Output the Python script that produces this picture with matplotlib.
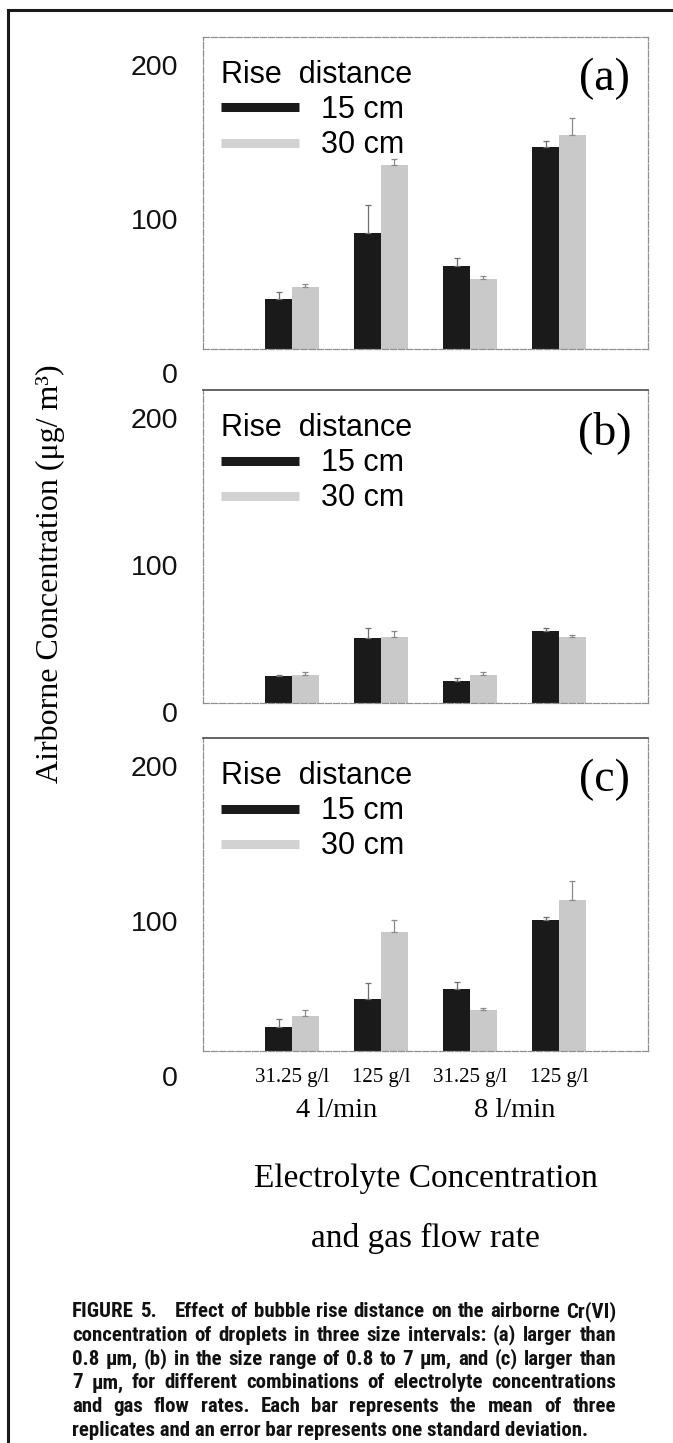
import matplotlib
matplotlib.use('Agg')
import matplotlib.pyplot as plt
import matplotlib.transforms as mtransforms
from matplotlib.lines import Line2D
from matplotlib import font_manager
import numpy as np

"""
Data read off the scanned figure (airborne Cr(VI), ug/m3)
"""
groups = ['31.25 g/l', '125 g/l', '31.25 g/l', '125 g/l']
flow_labels = ['4 l/min', '8 l/min']
series = ['15 cm', '30 cm']
panel_tags = ['(a)', '(b)', '(c)']
y_ticks = [0, 100, 200]

# (a) larger than 0.8 um
a_15 = [48, 91, 70, 147]
a_30 = [56, 135, 61, 155]
a_15_sd = [5, 18, 5, 4]
a_30_sd = [2, 4, 2, 11]
# (b) 0.8 to 7 um
b_15 = [24, 50, 21, 55]
b_30 = [25, 51, 25, 51]
b_15_sd = [1, 7, 2, 2]
b_30_sd = [2, 4, 2, 1]
# (c) larger than 7 um
c_15 = [32, 50, 56, 101]
c_30 = [39, 93, 43, 114]
c_15_sd = [5, 10, 5, 2]
c_30_sd = [4, 8, 1, 12]

caption = [
    "FIGURE 5.   Effect of bubble rise distance on the airborne Cr(VI)",
    "concentration of droplets in three size intervals: (a) larger than",
    "0.8 \u03bcm, (b) in the size range of 0.8 to 7 \u03bcm, and (c) larger than",
    "7 \u03bcm, for different combinations of electrolyte concentrations",
    "and gas flow rates. Each bar represents the mean of three",
    "replicates and an error bar represents one standard deviation.",
]

"""
Layout (pixels of the 673 x 1443 page)
"""
W, H = 673, 1443
SERIF = 'Liberation Serif'
SANS = 'Liberation Sans'

BLACK = '#1a1a1a'
GRAY = '#c9c9c9'
LEG_GRAY = '#d2d2d2'

AX_L, AX_R = 203, 648
# top px, bottom px, ylim low, ylim high
panel_box = [(37, 349, 15.8, 218.4),
             (390, 703, 5.9, 218.8),
             (738, 1051, 16.3, 218.3)]

means = [(a_15, a_30), (b_15, b_30), (c_15, c_30)]
sds = [(a_15_sd, a_30_sd), (b_15_sd, b_30_sd), (c_15_sd, c_30_sd)]


def fx(px):
    return px / W


def fy(py):
    return 1 - py / H


def caption_font():
    # a narrow bold sans is closest to the journal caption face
    prefs = ['LiberationSansNarrow-Bold', 'ArialNarrow-Bold', 'RobotoCondensed-Bold',
             'DejaVuSansCondensed-Bold', 'OpenSans_Condensed-Bold', 'OpenSansCondensed-Bold']
    files = [f.fname for f in font_manager.fontManager.ttflist]
    for p in prefs:
        for fn in files:
            if p.lower() in fn.replace(' ', '').lower():
                return font_manager.FontProperties(fname=fn)
    for fn in files:
        low = fn.lower()
        if ('condensed' in low or 'narrow' in low) and 'bold' in low \
                and 'mono' not in low and 'serif' not in low and 'italic' not in low \
                and 'oblique' not in low:
            return font_manager.FontProperties(fname=fn)
    return font_manager.FontProperties(family='Liberation Sans', weight='bold')


fig = plt.figure(figsize=(W / 100, H / 100), dpi=100)
fig.patch.set_facecolor('white')

x = np.arange(len(groups))
bw = 0.3
axes = []
for i, (top, bot, ylo, yhi) in enumerate(panel_box):
    ax = fig.add_axes([fx(AX_L), fy(bot), fx(AX_R) - fx(AX_L), (bot - top) / H])
    axes.append(ax)
    m15, m30 = means[i]
    s15, s30 = sds[i]

    ax.bar(x - bw / 2, m15, bw, color=BLACK, edgecolor='none', zorder=2)
    ax.bar(x + bw / 2, m30, bw, color=GRAY, edgecolor='none', zorder=2)
    ax.errorbar(x - bw / 2, m15, yerr=[np.zeros(len(m15)), s15], fmt='none',
                ecolor='#6f6f6f', elinewidth=0.9, capsize=2.5, capthick=0.9, zorder=3)
    ax.errorbar(x + bw / 2, m30, yerr=[np.zeros(len(m30)), s30], fmt='none',
                ecolor='#8a8a8a', elinewidth=0.9, capsize=2.5, capthick=0.9, zorder=3)

    ax.set_xlim(-1, 4)
    ax.set_ylim(ylo, yhi)
    ax.set_yticks([])

    # tick labels of the scan sit a bit off the bars' baseline
    for v in y_ticks:
        ax.text(-0.056, v, str(v), transform=ax.get_yaxis_transform(),
                ha='right', va='center_baseline', fontsize=20.5, family=SANS, color='#111111')

    for side in ['left', 'right', 'bottom', 'top']:
        ax.spines[side].set_color('#909090')
        ax.spines[side].set_linewidth(0.9)
        ax.spines[side].set_linestyle((0, (5, 1.5)))
    if i > 0:
        ax.spines['top'].set_color('#4a4a4a')
        ax.spines['top'].set_linewidth(1.2)
        ax.spines['top'].set_linestyle('-')

    handles = [Line2D([], [], color=BLACK, lw=6.5, solid_capstyle='butt'),
               Line2D([], [], color=LEG_GRAY, lw=6.5, solid_capstyle='butt')]
    ax.legend(handles, series, title='Rise  distance', loc='upper left',
              bbox_to_anchor=(0.04, 1 - 23 / 312), frameon=False,
              prop={'family': SANS, 'size': 22},
              title_fontproperties={'family': SANS, 'size': 22},
              handlelength=2.55, handletextpad=0.72, labelspacing=0.17,
              borderpad=0, borderaxespad=0, alignment='left')

    ax.text(0.903, 1 - 42 / 312, panel_tags[i], transform=ax.transAxes,
            ha='center', va='center', fontsize=33, family=SERIF)

    if i < 2:
        ax.set_xticks([])
    else:
        ax.set_xticks(x, groups, fontsize=15, family=SERIF)
        ax.tick_params(axis='x', length=0, pad=12)

ax_c = axes[2]
flow_tr = mtransforms.blended_transform_factory(ax_c.transData, fig.transFigure)
for j, lab in enumerate(flow_labels):
    ax_c.text(2 * j + 0.5, fy(1117), lab, transform=flow_tr, ha='center', va='baseline',
              fontsize=20.5, family=SERIF)

mid_tr = mtransforms.blended_transform_factory(ax_c.transAxes, fig.transFigure)
fig.text(0.5, fy(1187), 'Electrolyte Concentration', transform=mid_tr,
         ha='center', va='baseline', fontsize=24, family=SERIF)
fig.text(0.5, fy(1247), 'and gas flow rate', transform=mid_tr,
         ha='center', va='baseline', fontsize=24, family=SERIF)

fig.text(fx(50), fy(574), 'Airborne Concentration (\u03bcg/ m\u00b3)', rotation=90,
         ha='center', va='center', fontsize=23, family=SERIF)

# page frame of the scan
fig.add_artist(Line2D([fx(8), fx(8)], [0, fy(10)], transform=fig.transFigure,
                      color='#1a1a1a', lw=2.2))
fig.add_artist(Line2D([fx(8), 1], [fy(10), fy(10)], transform=fig.transFigure,
                      color='#1a1a1a', lw=2.2))

# justified caption
renderer = fig.canvas.get_renderer()
CAP_L, CAP_R = 72, 616
cap_fp = caption_font()
cap_size = 15
probe = fig.text(0, 0, '', fontproperties=cap_fp, fontsize=cap_size)
widest = 0
for line in caption:
    probe.set_text(' '.join(line.split()))
    widest = max(widest, probe.get_window_extent(renderer=renderer).width)
probe.remove()
if widest > (CAP_R - CAP_L) * 0.97:
    cap_size = cap_size * (CAP_R - CAP_L) * 0.97 / widest

for k, line in enumerate(caption):
    base = 1317 + k * 23.8
    if k == len(caption) - 1:
        fig.text(fx(CAP_L), fy(base), line, ha='left', va='baseline',
                 fontproperties=cap_fp, fontsize=cap_size, color='#111111')
        continue
    tokens = line.split(' ')
    arts = [fig.text(0, fy(base), t, ha='left', va='baseline', fontproperties=cap_fp,
                     fontsize=cap_size, color='#111111') if t else None
            for t in tokens]
    widths = [a.get_window_extent(renderer=renderer).width if a is not None else 0
              for a in arts]
    gap = (CAP_R - CAP_L - sum(widths)) / (len(tokens) - 1)
    pos = CAP_L
    for a, w in zip(arts, widths):
        if a is not None:
            a.set_x(fx(pos))
        pos += w + gap

fig.savefig('out.png', dpi=100)
